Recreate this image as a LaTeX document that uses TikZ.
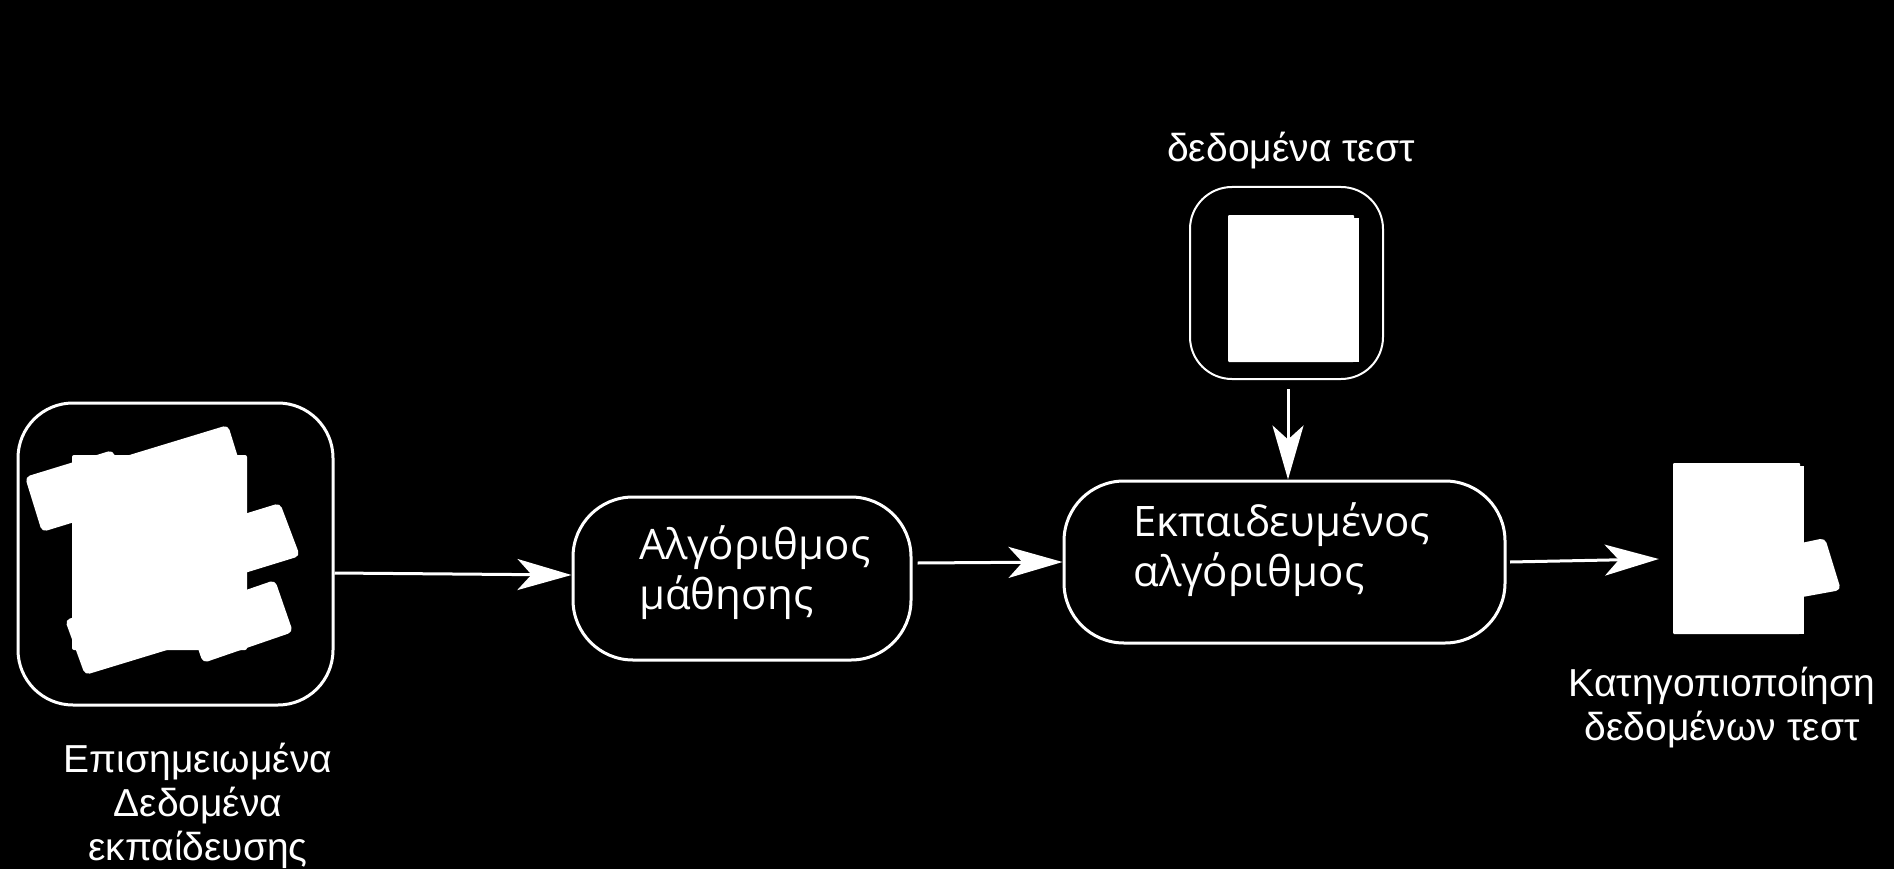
\documentclass[tikz,border=0pt]{standalone}
\usepackage{fontspec}
\setmainfont{Liberation Sans}
\newfontfamily\boxfont{Open Sans}
\usetikzlibrary{arrows.meta,calc}
\begin{document}
\begin{tikzpicture}[x=1pt,y=1pt,
  lbl/.style={text=white,font=\fontsize{39}{44}\selectfont,align=center,inner sep=0pt},
  boxtxt/.style={text=white,font=\boxfont\fontsize{42}{50}\selectfont,align=left,inner sep=0pt,anchor=west},
  rbox/.style={draw=white,line width=3pt,fill=black},
  arr/.style={draw=white,line width=3pt,-{Stealth[length=54pt,width=31pt,inset=14pt]}},
  docrect/.style={fill=white,draw=none,inner sep=0pt,rounded corners=1pt},
  card/.style={fill=white,rounded corners=5pt},
]
\fill[black] (0,0) rectangle (1894,-869);
\useasboundingbox (0,0) rectangle (1894,-869);

% left box with stacked cards
\node[rbox,rounded corners=55pt,minimum width=315pt,minimum height=302pt] (train) at (175.5,-554) {};
\fill[white,rounded corners=2pt] (72,-455) rectangle (247,-650);
\fill[card] (25,-477) -- (113,-450) -- (130,-505) -- (42,-532) -- cycle;
\fill[card] (113,-460) -- (228,-425) -- (245,-480) -- (130,-515) -- cycle;
\fill[card] (137,-547) -- (280,-503) -- (300,-556) -- (157,-600) -- cycle;
\fill[card] (185,-611) -- (275,-580) -- (293,-632) -- (203,-663) -- cycle;
\fill[card] (65,-620) -- (170,-588) -- (190,-643) -- (85,-675) -- cycle;
\node[lbl] (trainlbl) at (198,-806) {Επισημειωμένα\\Δεδομένα\\εκπαίδευσης};

% learning algorithm
\node[rbox,rounded corners=60pt,minimum width=338pt,minimum height=163pt] (algo) at (742,-578.5) {};
\node[boxtxt] (algotxt) at (639,-573) {Αλγόριθμος\\μάθησης};

% trained algorithm
\node[rbox,rounded corners=60pt,minimum width=441pt,minimum height=162pt] (trained) at (1284.5,-562) {};
\node[boxtxt] (trainedtxt) at (1133,-550) {Εκπαιδευμένος\\αλγόριθμος};

% test data
\node[rbox,line width=2pt,rounded corners=42pt,minimum width=193pt,minimum height=192pt] (test) at (1286.5,-283) {};
\fill[white] (1232,-218) rectangle (1359,-362);
\node[docrect,minimum width=126pt,minimum height=147pt] (testdoc) at (1291,-288.5) {};
\node[lbl] (testlbl) at (1291,-151) {δεδομένα τεστ};

% output
\fill[card] (1720,-560) -- (1825,-538) -- (1841,-590) -- (1720,-612) -- cycle;
\fill[white] (1677,-466) rectangle (1804,-634);
\node[docrect,minimum width=127pt,minimum height=171pt] (outdoc) at (1736.5,-548.5) {};
\node[lbl] (outlbl) at (1722,-708) {Κατηγοπιοποίηση\\δεδομένων τεστ};

% connectors
\draw[arr] ($(train.east)+(0,-19)$) -- ($(algo.west)+(0,3.5)$);
\draw[arr] ($(algo.east)+(5,15.5)$) -- (trained.west);
\draw[arr] ($(test.south)+(1.5,-9)$) coordinate (vs) -- (vs |- trained.north);
\draw[arr] ($(trained.east)+(3.5,0)$) -- ($(outdoc.west)+(-14,-10.5)$);
\end{tikzpicture}
\end{document}
